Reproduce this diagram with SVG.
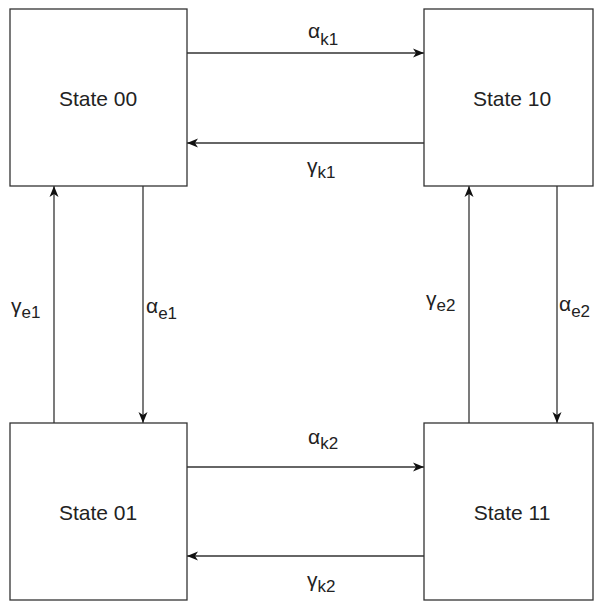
<svg xmlns="http://www.w3.org/2000/svg" width="595" height="601" viewBox="0 0 595 601">
<style>
.box{fill:#fff;stroke:#333;stroke-width:1.3}
.st{font-family:"Liberation Sans",Arial,sans-serif;font-size:21px;fill:#222;text-anchor:middle}
.lb{font-family:"Liberation Sans",Arial,sans-serif;font-size:21px;fill:#222}
.sub{font-size:17px}
.cn{stroke:#333;stroke-width:1.3;fill:none;marker-end:url(#ah)}
</style>
<defs>
<marker id="ah" markerUnits="userSpaceOnUse" markerWidth="12" markerHeight="10" refX="11" refY="5" orient="auto">
<path d="M0,0.5 L11,5 L0,9.5 L3,5 z" fill="#111"/>
</marker>
</defs>
<rect width="595" height="601" fill="#fff"/>
<g id="connectors">
<line class="cn" x1="187" y1="53" x2="424" y2="53"/>
<line class="cn" x1="424" y1="143" x2="187" y2="143"/>
<line class="cn" x1="54" y1="423" x2="54" y2="186"/>
<line class="cn" x1="143" y1="186" x2="143" y2="423"/>
<line class="cn" x1="469" y1="423" x2="469" y2="186"/>
<line class="cn" x1="557" y1="186" x2="557" y2="423"/>
<line class="cn" x1="187" y1="467" x2="424" y2="467"/>
<line class="cn" x1="424" y1="556" x2="187" y2="556"/>
</g>
<g id="labels">
<text class="lb" x="308" y="38">α<tspan class="sub" dy="7">k1</tspan></text>
<text class="lb" x="307" y="173">γ<tspan class="sub" dy="5">k1</tspan></text>
<text class="lb" x="11" y="313">γ<tspan class="sub" dy="5">e1</tspan></text>
<text class="lb" x="146" y="313">α<tspan class="sub" dy="6">e1</tspan></text>
<text class="lb" x="426" y="306">γ<tspan class="sub" dy="5">e2</tspan></text>
<text class="lb" x="559" y="311">α<tspan class="sub" dy="6">e2</tspan></text>
<text class="lb" x="308" y="444">α<tspan class="sub" dy="5">k2</tspan></text>
<text class="lb" x="307" y="587">γ<tspan class="sub" dy="5">k2</tspan></text>
</g>
<g id="state00"><rect class="box" x="10" y="9" width="177" height="177"/><text class="st" x="98" y="106">State 00</text></g>
<g id="state10"><rect class="box" x="424" y="9" width="169" height="177"/><text class="st" x="512" y="106">State 10</text></g>
<g id="state01"><rect class="box" x="10" y="423" width="177" height="177"/><text class="st" x="98" y="520">State 01</text></g>
<g id="state11"><rect class="box" x="424" y="423" width="169" height="177"/><text class="st" x="512" y="520">State 11</text></g>
</svg>
